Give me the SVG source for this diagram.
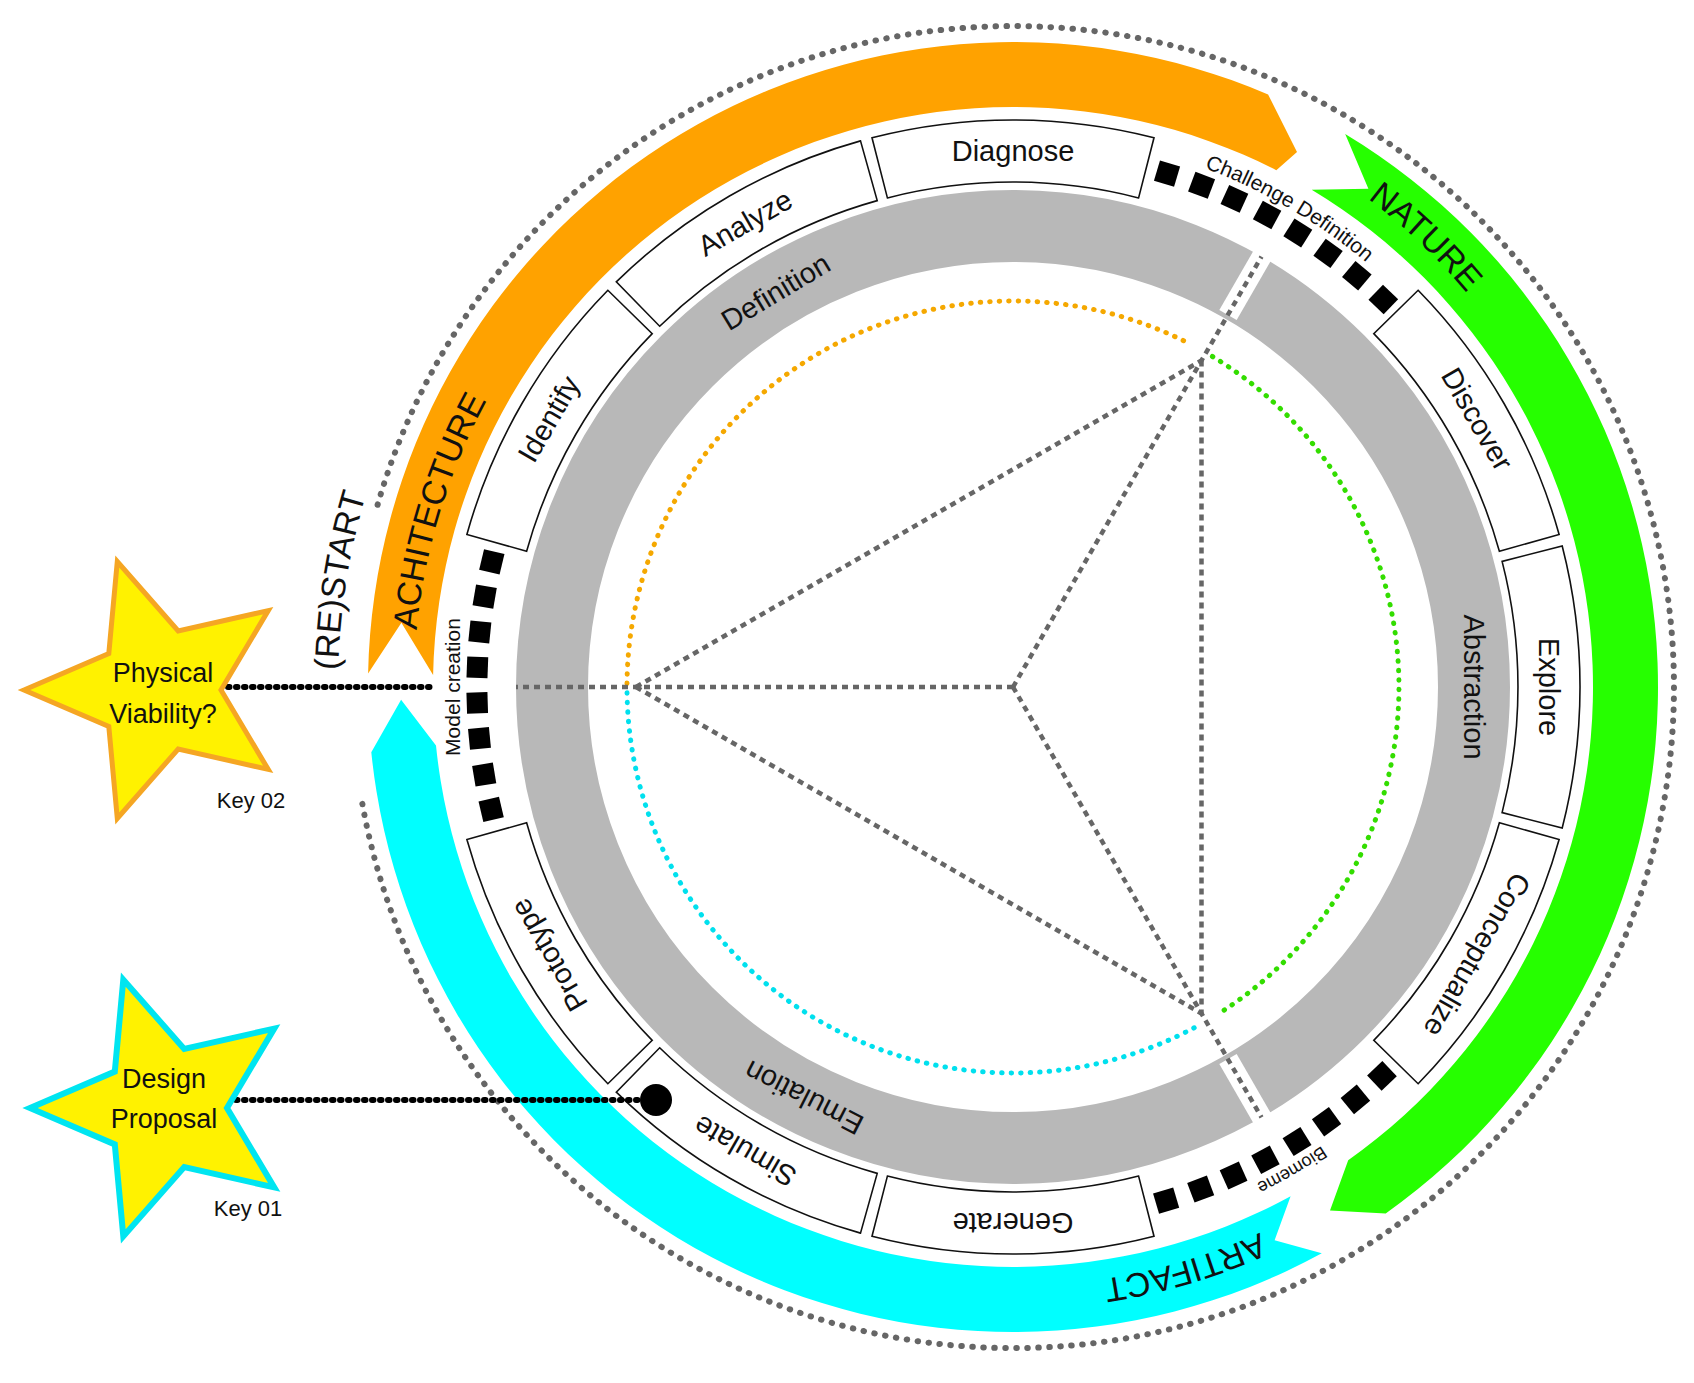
<svg xmlns="http://www.w3.org/2000/svg" xmlns:xlink="http://www.w3.org/1999/xlink" width="1694" height="1383" viewBox="0 0 1694 1383">
<style>
text{font-family:"Liberation Sans",Arial,sans-serif;fill:#111}
.box{fill:#fff;stroke:#111;stroke-width:1.6}
.bl{font-size:29px;text-anchor:middle;dominant-baseline:central}
.gl{font-size:29px;text-anchor:middle;dominant-baseline:central}
.sq{fill:#000}
.dash{fill:none;stroke:#666;stroke-width:4.5;stroke-dasharray:6 5}
.arr{font-size:34px}
.st{font-size:27px;text-anchor:middle}
.key{font-size:22px;text-anchor:middle}
</style>
<defs>
<path id="boxp" d="M1562.2,546 A567,567 0 0 1 1562.2,828 L1502.1,812.6 A505,505 0 0 0 1502.1,561.4 Z"/>
<rect id="sqr" x="1538.5" y="676.5" width="21" height="21"/>
<polygon id="star" points="-135,0 -50.2,-36.4 -41.7,-128.4 19.2,-59 109.2,-79.4 62,0 109.2,79.4 19.2,59 -41.7,128.4 -50.2,36.4"/>
<path id="pAch" d="M423.1,791 A599,599 0 0 1 582.1,270.9"/>
<path id="pNat" d="M1291.2,149.8 A599,599 0 0 1 1519.6,366.9"/>
<path id="pArt" d="M1330.4,1195 A599,599 0 0 1 1023.5,1285.9"/>
<path id="pRe" d="M340.6,745.8 A675,675 0 0 1 391.7,423.3"/>
<path id="pCh" d="M1150.9,151.1 A554,554 0 0 1 1407.5,300.8"/>
<path id="pBio" d="M1383,1097.9 A553,553 0 0 1 1183.9,1213"/>
</defs>

<g id="outer-ring">
<path d="M377.6,504.8 A661,661 0 1 1 362,801.8" fill="none" stroke="#666" stroke-width="6" stroke-linecap="round" stroke-dasharray="0.5 10.5"/>
<text class="arr" font-size="32"><textPath xlink:href="#pRe" href="#pRe" startOffset="50%" text-anchor="middle">(RE)START</textPath></text>
</g>

<g id="arrow-architecture">
<path d="M368.1,673.5 A645,645 0 0 1 1268.1,94.6 L1297,152 L1276.3,170.2 A580,580 0 0 0 433.1,674.9 L401.4,622.7 Z" fill="#FFA200"/>
<text class="arr"><textPath xlink:href="#pAch" href="#pAch" startOffset="50%" text-anchor="middle">ACHITECTURE</textPath></text>
</g>
<g id="arrow-nature">
<path d="M1345.2,134.1 A645,645 0 0 1 1385.7,1213.4 L1330,1210.5 L1348.2,1160.3 A580,580 0 0 0 1311.7,189.8 L1368.4,188.8 Z" fill="#26FF00"/>
<text class="arr"><textPath xlink:href="#pNat" href="#pNat" startOffset="50%" text-anchor="middle">NATURE</textPath></text>
</g>
<g id="arrow-artifact">
<path d="M1321.8,1253.3 A645,645 0 0 1 371.3,752.2 L401.1,699.8 L436,745.6 A580,580 0 0 0 1290.6,1196.2 L1274.6,1240.3 Z" fill="#00FFFF"/>
<text class="arr"><textPath xlink:href="#pArt" href="#pArt" startOffset="50%" text-anchor="middle">ARTIFACT</textPath></text>
</g>

<g id="gray-ring">
<circle cx="1013" cy="687" r="461" fill="none" stroke="#B8B8B8" stroke-width="72"/>
<line x1="500" y1="687" x2="415" y2="687" stroke="#fff" stroke-width="20"/>
<line x1="1270.5" y1="241.3" x2="1228" y2="315" stroke="#fff" stroke-width="20"/>
<line x1="1270.5" y1="1132.7" x2="1228" y2="1059" stroke="#fff" stroke-width="20"/>
<text class="gl" transform="rotate(239 1013 687) translate(1474 687) rotate(90)">Definition</text>
<text class="gl" transform="translate(1474 687) rotate(90)">Abstraction</text>
<text class="gl" transform="rotate(117 1013 687) translate(1474 687) rotate(90)">Emulation</text>
</g>

<g id="steps">
<g id="diagnose"><use href="#boxp" xlink:href="#boxp" class="box" transform="rotate(270 1013 687)"/><text class="bl" transform="rotate(270 1013 687) translate(1549 687) rotate(90)">Diagnose</text></g>
<g id="analyze"><use href="#boxp" xlink:href="#boxp" class="box" transform="rotate(240 1013 687)"/><text class="bl" transform="rotate(240 1013 687) translate(1549 687) rotate(90)">Analyze</text></g>
<g id="identify"><use href="#boxp" xlink:href="#boxp" class="box" transform="rotate(210 1013 687)"/><text class="bl" transform="rotate(210 1013 687) translate(1549 687) rotate(90)">Identify</text></g>
<g id="prototype"><use href="#boxp" xlink:href="#boxp" class="box" transform="rotate(150 1013 687)"/><text class="bl" transform="rotate(150 1013 687) translate(1549 687) rotate(90)">Prototype</text></g>
<g id="simulate"><use href="#boxp" xlink:href="#boxp" class="box" transform="rotate(120 1013 687)"/><text class="bl" transform="rotate(120 1013 687) translate(1549 687) rotate(90)">Simulate</text></g>
<g id="generate"><use href="#boxp" xlink:href="#boxp" class="box" transform="rotate(90 1013 687)"/><text class="bl" transform="rotate(90 1013 687) translate(1549 687) rotate(90)">Generate</text></g>
<g id="conceptualize"><use href="#boxp" xlink:href="#boxp" class="box" transform="rotate(30 1013 687)"/><text class="bl" transform="rotate(30 1013 687) translate(1549 687) rotate(90)">Conceptualize</text></g>
<g id="explore"><use href="#boxp" xlink:href="#boxp" class="box"/><text class="bl" transform="translate(1549 687) rotate(90)">Explore</text></g>
<g id="discover"><use href="#boxp" xlink:href="#boxp" class="box" transform="rotate(-30 1013 687)"/><text class="bl" transform="rotate(-30 1013 687) translate(1549 687) rotate(90)">Discover</text></g>
</g>

<g id="challenge-definition">
<use href="#sqr" xlink:href="#sqr" class="sq" transform="rotate(-73.3 1013 687)"/>
<use href="#sqr" xlink:href="#sqr" class="sq" transform="rotate(-69.4 1013 687)"/>
<use href="#sqr" xlink:href="#sqr" class="sq" transform="rotate(-65.6 1013 687)"/>
<use href="#sqr" xlink:href="#sqr" class="sq" transform="rotate(-61.7 1013 687)"/>
<use href="#sqr" xlink:href="#sqr" class="sq" transform="rotate(-57.9 1013 687)"/>
<use href="#sqr" xlink:href="#sqr" class="sq" transform="rotate(-54 1013 687)"/>
<use href="#sqr" xlink:href="#sqr" class="sq" transform="rotate(-50.1 1013 687)"/>
<use href="#sqr" xlink:href="#sqr" class="sq" transform="rotate(-46.3 1013 687)"/>
<text font-size="21"><textPath xlink:href="#pCh" href="#pCh" startOffset="50%" text-anchor="middle">Challenge Definition</textPath></text>
</g>
<g id="biomeme">
<use href="#sqr" xlink:href="#sqr" class="sq" transform="rotate(46.5 1013 687)"/>
<use href="#sqr" xlink:href="#sqr" class="sq" transform="rotate(50.3 1013 687)"/>
<use href="#sqr" xlink:href="#sqr" class="sq" transform="rotate(54.2 1013 687)"/>
<use href="#sqr" xlink:href="#sqr" class="sq" transform="rotate(58 1013 687)"/>
<use href="#sqr" xlink:href="#sqr" class="sq" transform="rotate(61.9 1013 687)"/>
<use href="#sqr" xlink:href="#sqr" class="sq" transform="rotate(65.7 1013 687)"/>
<use href="#sqr" xlink:href="#sqr" class="sq" transform="rotate(69.5 1013 687)"/>
<use href="#sqr" xlink:href="#sqr" class="sq" transform="rotate(73.4 1013 687)"/>
<text font-size="18"><textPath xlink:href="#pBio" href="#pBio" startOffset="50%" text-anchor="middle">Biomeme</textPath></text>
</g>
<g id="model-creation">
<use href="#sqr" xlink:href="#sqr" class="sq" transform="rotate(193.5 1013 687)"/>
<use href="#sqr" xlink:href="#sqr" class="sq" transform="rotate(189.7 1013 687)"/>
<use href="#sqr" xlink:href="#sqr" class="sq" transform="rotate(185.9 1013 687)"/>
<use href="#sqr" xlink:href="#sqr" class="sq" transform="rotate(182.1 1013 687)"/>
<use href="#sqr" xlink:href="#sqr" class="sq" transform="rotate(178.3 1013 687)"/>
<use href="#sqr" xlink:href="#sqr" class="sq" transform="rotate(174.5 1013 687)"/>
<use href="#sqr" xlink:href="#sqr" class="sq" transform="rotate(170.6 1013 687)"/>
<use href="#sqr" xlink:href="#sqr" class="sq" transform="rotate(166.8 1013 687)"/>
<text font-size="21" text-anchor="middle" dominant-baseline="central" transform="translate(452 687) rotate(-90)">Model creation</text>
</g>

<g id="inner-circle">
<path d="M627,683.6 A386,386 0 0 1 1185.8,341.8" fill="none" stroke="#F5A800" stroke-width="5" stroke-linecap="round" stroke-dasharray="0.5 9"/>
<path d="M1212.4,356.5 A386,386 0 0 1 1223.2,1010.7" fill="none" stroke="#33DD00" stroke-width="5" stroke-linecap="round" stroke-dasharray="0.5 9"/>
<path d="M1194.2,1027.8 A386,386 0 0 1 627,690.4" fill="none" stroke="#00E0EE" stroke-width="5" stroke-linecap="round" stroke-dasharray="0.5 9"/>
</g>

<g id="connectors">
<line class="dash" x1="1013" y1="687" x2="516" y2="687"/>
<line class="dash" x1="1013" y1="687" x2="1261.5" y2="256.6"/>
<line class="dash" x1="1013" y1="687" x2="1261.5" y2="1117.4"/>
<line class="dash" x1="636" y1="687" x2="1201.5" y2="360.5"/>
<line class="dash" x1="1201.5" y1="360.5" x2="1201.5" y2="1013.5"/>
<line class="dash" x1="636" y1="687" x2="1201.5" y2="1013.5"/>
<line x1="228" y1="687" x2="432" y2="687" stroke="#000" stroke-width="6" stroke-linecap="round" stroke-dasharray="1.5 6.5"/>
<line x1="236" y1="1100" x2="645" y2="1100" stroke="#000" stroke-width="6" stroke-linecap="round" stroke-dasharray="1.5 6.5"/>
<circle cx="656" cy="1100" r="16" fill="#000"/>
</g>

<g id="key02">
<use href="#star" xlink:href="#star" transform="translate(159 690)" fill="#FFF200" stroke="#F5A623" stroke-width="5" stroke-linejoin="miter"/>
<text class="st" x="163" y="682">Physical</text>
<text class="st" x="163" y="723">Viability?</text>
<text class="key" x="251" y="808">Key 02</text>
</g>
<g id="key01">
<use href="#star" xlink:href="#star" transform="translate(165 1108)" fill="#FFF200" stroke="#00E5F0" stroke-width="6" stroke-linejoin="miter"/>
<text class="st" x="164" y="1088">Design</text>
<text class="st" x="164" y="1128">Proposal</text>
<text class="key" x="248" y="1216">Key 01</text>
</g>
</svg>
